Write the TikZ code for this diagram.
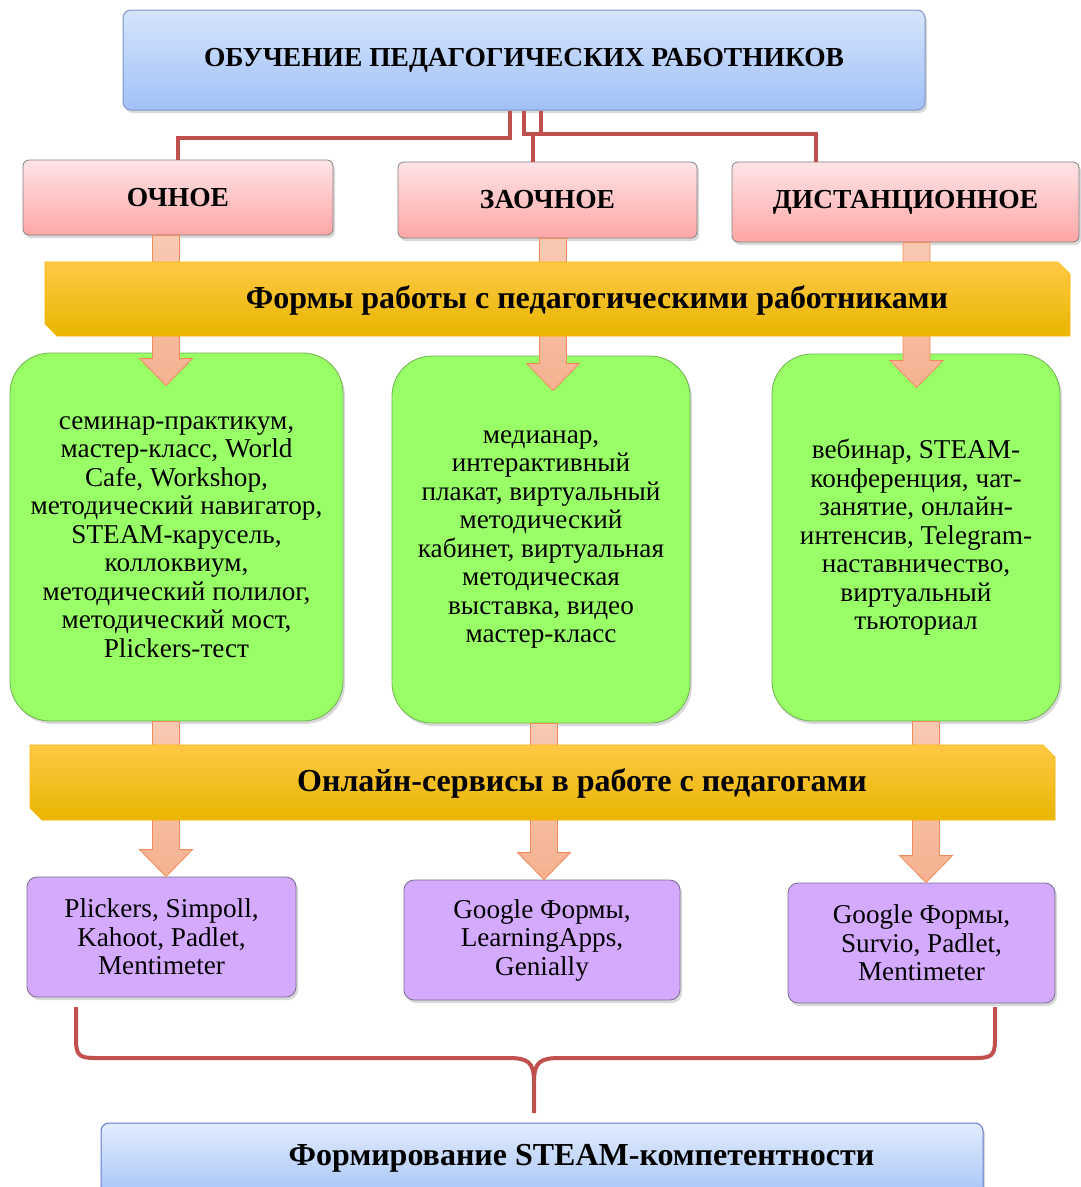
\documentclass[tikz,border=0pt]{standalone}
\usepackage{fontspec}
\setmainfont{Liberation Serif}
\usetikzlibrary{calc,shadows}

\definecolor{redline}{RGB}{192,80,77}
\definecolor{bluetop}{RGB}{214,228,252}
\definecolor{bluebot}{RGB}{160,193,247}
\definecolor{blueedge}{RGB}{125,150,195}
\definecolor{pinktop}{RGB}{255,228,230}
\definecolor{pinkbot}{RGB}{255,166,166}
\definecolor{yeltop}{RGB}{255,200,70}
\definecolor{yelmid}{RGB}{255,192,0}
\definecolor{yelbot}{RGB}{232,182,0}
\definecolor{formgreen}{RGB}{153,255,102}
\definecolor{greenedge}{RGB}{110,178,80}
\definecolor{servlilac}{RGB}{212,170,255}
\definecolor{lilacedge}{RGB}{120,108,142}
\definecolor{arrfill}{RGB}{245,178,145}
\definecolor{arredge}{RGB}{240,140,90}

\tikzset{
	shade/.style={drop shadow={shadow xshift=2pt,shadow yshift=-3pt,opacity=.3}},
	headbox/.style={shade,draw=blueedge,line width=1pt,rounded corners=8pt,top color=bluetop,bottom color=bluebot},
	formbox/.style={shade,draw=gray,line width=.8pt,rounded corners=6pt,top color=pinktop,bottom color=pinkbot,font=\fontsize{27.5}{30}\selectfont\bfseries},
	banner/.style={draw=yelmid!80!orange,line width=.6pt,top color=yeltop,middle color=yelmid,bottom color=yelbot},
	btext/.style={font=\fontsize{32}{36}\selectfont\bfseries},
	workbox/.style={shade,draw=greenedge,line width=.8pt,rounded corners=40pt,fill=formgreen,align=center,font=\fontsize{27.2}{28.5}\selectfont},
	servbox/.style={shade,draw=lilacedge,line width=.8pt,rounded corners=10pt,fill=servlilac,align=center,font=\fontsize{27.2}{28.5}\selectfont},
	conn/.style={draw=redline,line width=3.5pt},
	barrow/.style={draw=arredge,line width=.8pt,top color=arrfill!70!white,bottom color=arrfill},
}

% block arrow: from node, to node, shaft x, tip depth
\newcommand\barrow[4]{%
	\draw[barrow] let \p1=(#1.south), \p2=(#2.north), \p3=(#3,0) in
		(\x3-13.5pt,\y1) -- (\x3-13.5pt,\y2-#4pt+27pt) -- (\x3-26.5pt,\y2-#4pt+27pt) -- (\x3,\y2-#4pt)
		-- (\x3+26.5pt,\y2-#4pt+27pt) -- (\x3+13.5pt,\y2-#4pt+27pt) -- (\x3+13.5pt,\y1) -- cycle;}

\begin{document}
\begin{tikzpicture}[x=1pt,y=-1pt]
	\useasboundingbox (0,0) rectangle (1081,1187);
	\clip (0,0) rectangle (1081,1187);

	\node[headbox,minimum width=802pt,minimum height=100pt,font=\fontsize{27.5}{30}\selectfont\bfseries] (top) at (524,60) {ОБУЧЕНИЕ ПЕДАГОГИЧЕСКИХ РАБОТНИКОВ};

	\node[formbox,minimum width=310pt,minimum height=75pt] (och) at (178,197.5) {ОЧНОЕ};
	\node[formbox,minimum width=299pt,minimum height=76pt] (zao) at (547.5,200) {ЗАОЧНОЕ};
	\node[formbox,minimum width=347pt,minimum height=80pt] (dist) at (905.5,202) {ДИСТАНЦИОННОЕ};

	\coordinate (ja) at (510,138);
	\coordinate (jb) at (524,134);
	\coordinate (jc) at (541,134);
	\coordinate (jd) at (816,0);
	\coordinate (je) at (533,134);
	\draw[conn] (top.south -| ja) -- (ja) -| (och.north);
	\draw[conn] (top.south -| jb) -- (jb) -| (dist.north -| jd);
	\draw[conn] (top.south -| jc) -- (jc);
	\draw[conn] (je) -- (zao.north -| je);

	\node[workbox,minimum width=333pt,minimum height=368pt] (w1) at (176.5,537) {семинар-практикум,\\мастер-класс, World\\Cafe, Workshop,\\методический навигатор,\\STEAM-карусель,\\коллоквиум,\\методический полилог,\\методический мост,\\Plickers-тест};
	\node[workbox,minimum width=298pt,minimum height=367pt] (w2) at (541,539.5) {медианар,\\интерактивный\\плакат, виртуальный\\методический\\кабинет, виртуальная\\методическая\\выставка, видео\\мастер-класс};
	\node[workbox,minimum width=288pt,minimum height=367pt] (w3) at (916,537.5) {вебинар, STEAM-\\конференция, чат-\\занятие, онлайн-\\интенсив, Telegram-\\наставничество,\\виртуальный\\тьюториал};

	\node[servbox,minimum width=269pt,minimum height=120pt] (s1) at (161.5,937) {Plickers, Simpoll,\\Kahoot, Padlet,\\Mentimeter};
	\node[servbox,minimum width=276pt,minimum height=120pt] (s2) at (542,940) {Google Формы,\\LearningApps,\\Genially};
	\node[servbox,minimum width=267pt,minimum height=120pt] (s3) at (921.5,943) {Google Формы,\\Survio, Padlet,\\Mentimeter};

	\barrow{och}{w1}{166}{33}
	\barrow{zao}{w2}{553}{35}
	\barrow{dist}{w3}{916.5}{34}
	\barrow{w1}{s1}{166}{0}
	\barrow{w2}{s2}{544}{0}
	\barrow{w3}{s3}{926}{0}

	\draw[banner] (45,262) -- (1058,262) -- (1070,274) -- (1070,336) -- (57,336) -- (45,324) -- cycle;
	\node[btext] (t1) at (597,300) {Формы работы с педагогическими работниками};
	\draw[banner] (30,745) -- (1043,745) -- (1055,757) -- (1055,820) -- (42,820) -- (30,808) -- cycle;
	\node[btext] (t2) at (582,783) {Онлайн-сервисы в работе с педагогами};

	\draw[conn,line width=4pt] (76,1007) -- (76,1040) .. controls (76,1056) and (80,1058) .. (96,1058) -- (508,1058)
		.. controls (528,1058) and (534,1062) .. (534,1082) -- (534,1113);
	\draw[conn,line width=4pt] (534,1082) .. controls (534,1062) and (540,1058) .. (560,1058) -- (975,1058)
		.. controls (991,1058) and (995,1056) .. (995,1040) -- (995,1007);

	\node[headbox,draw=blueedge!80!blue,top color=bluetop!70!white,minimum width=882pt,minimum height=80pt] (res) at (542,1163) {};
	\node[btext] (t3) at (581.5,1158) {Формирование STEAM-компетентности};
\end{tikzpicture}
\end{document}
